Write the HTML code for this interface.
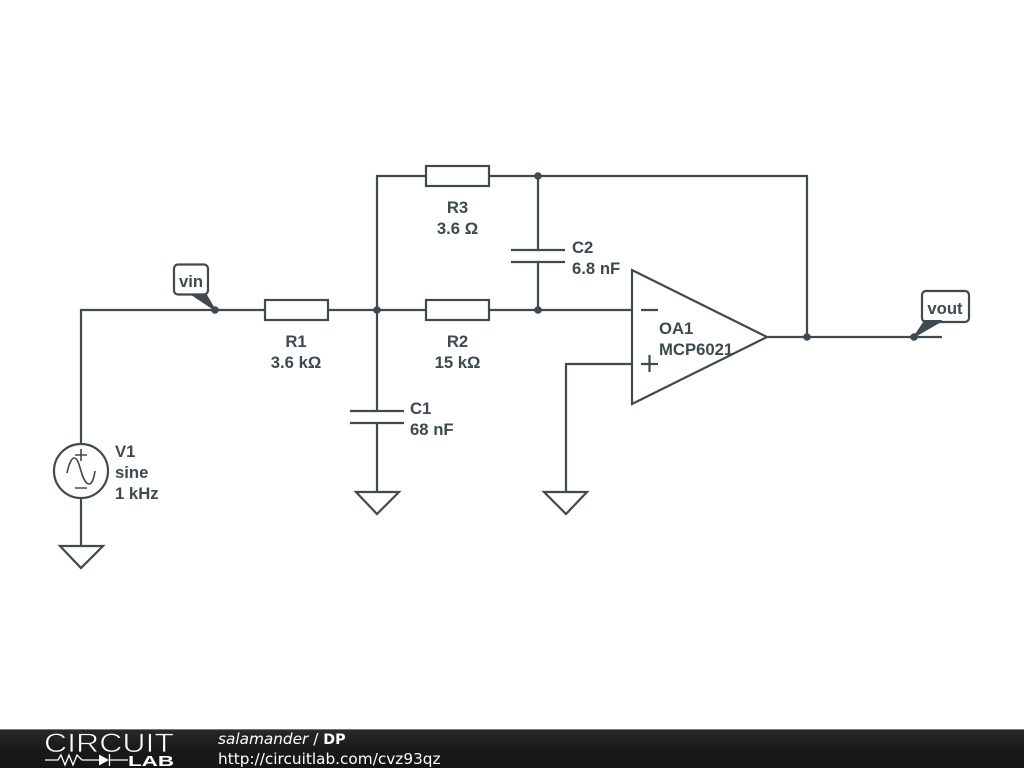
<!DOCTYPE html>
<html><head><meta charset="utf-8"><style>
html,body{margin:0;padding:0;background:#fff;width:1024px;height:768px;overflow:hidden}
svg{display:block}
.w{fill:none;stroke:#3e4a50;stroke-width:2.2}
.t{font-family:"Liberation Sans",sans-serif;font-weight:bold;font-size:16.7px;fill:#3e4a50}
.m{text-anchor:middle}
.f{font-family:"DejaVu Sans",sans-serif;font-size:15.3px;fill:#fff}
</style></head><body>
<svg width="1024" height="768" viewBox="0 0 1024 768" xmlns="http://www.w3.org/2000/svg">
<defs><linearGradient id="g" x1="0" y1="0" x2="0" y2="1"><stop offset="0" stop-color="#2a2a2a"/><stop offset=".5" stop-color="#1a1a1a"/><stop offset="1" stop-color="#141414"/></linearGradient></defs>
<rect width="1024" height="768" fill="#fff"/>
<!-- wires -->
<path class="w" d="M81 444V310H265M328 310H426M489 310H632M377 310V176H426M489 176H807V337M538 176V250M538 262V310M377 310V411M377 423V492M81 498V546M632 364H566V492M767 337H942"/>
<!-- resistors -->
<rect class="w" x="265" y="300" width="63" height="20" fill="#fff"/>
<rect class="w" x="426" y="300" width="63" height="20" fill="#fff"/>
<rect class="w" x="426" y="166" width="63" height="20" fill="#fff"/>
<!-- caps -->
<path class="w" d="M350 411H404M350 423H404M511 250H565M511 262H565"/>
<!-- grounds -->
<path class="w" d="M356 492H399L377 514ZM544 492H587L566 514ZM60 546H103L81 568Z"/>
<!-- source -->
<circle class="w" cx="81" cy="471" r="27"/>
<path class="w" style="stroke-width:1.6" d="M75 455H87M81 449V461M75 488H87M67 473C69 463 72 458 74 458C78 458 79 465 81 471C83 478 86 484 89 484C92 484 94 478 95 471"/>
<!-- opamp -->
<path class="w" d="M632 270L767 337L632 404Z"/>
<path class="w" d="M641 310H658M641 364H658M649.5 355V372"/>
<!-- dots -->
<g fill="#3e4a50" stroke="#3e4a50"><circle cx="215" cy="310" r="3.3" stroke-width="1"/><circle cx="377" cy="310" r="3.3" stroke-width="1"/><circle cx="538" cy="310" r="3.3" stroke-width="1"/><circle cx="538" cy="176" r="3.3" stroke-width="1"/><circle cx="807" cy="337" r="3.3" stroke-width="1"/><circle cx="914" cy="337" r="3.3" stroke-width="1"/>
<path stroke-width="2" stroke-linejoin="round" d="M193 295L206 295L214 309ZM915 336L925 321L941 321Z"/></g>
<!-- flags -->
<rect class="w" x="174" y="264.5" width="34" height="30" rx="4" fill="#fff"/>
<rect class="w" x="922" y="291" width="47" height="31" rx="4" fill="#fff"/>
<text class="t m" x="191" y="287">vin</text>
<text class="t m" x="945" y="314">vout</text>
<!-- labels -->
<text class="t m" x="296" y="347">R1</text>
<text class="t m" x="296" y="368">3.6 kΩ</text>
<text class="t m" x="457.5" y="347">R2</text>
<text class="t m" x="457.5" y="368">15 kΩ</text>
<text class="t m" x="457.5" y="213">R3</text>
<text class="t m" x="457.5" y="234">3.6 Ω</text>
<text class="t" x="410" y="414">C1</text>
<text class="t" x="410" y="435">68 nF</text>
<text class="t" x="572" y="253">C2</text>
<text class="t" x="572" y="274">6.8 nF</text>
<text class="t" x="659" y="334">OA1</text>
<text class="t" x="659" y="355">MCP6021</text>
<text class="t" x="115" y="457">V1</text>
<text class="t" x="115" y="478">sine</text>
<text class="t" x="115" y="499">1 kHz</text>
<!-- footer -->
<rect x="0" y="729" width="1024" height="39" fill="url(#g)"/>
<rect x="0" y="729" width="1024" height="1" fill="#777"/>
<text x="44" y="752" font-family="'Liberation Sans',sans-serif" font-size="27" fill="#fff" stroke="#1c1c1c" stroke-width=".7" textLength="130" lengthAdjust="spacingAndGlyphs">CIRCUIT</text>
<path d="M45 760H58L61 755L65 765L69 755L73 765L77 755L82 760H99M110 760H128M109.5 754V766" fill="none" stroke="#fff" stroke-width="1.3"/>
<path d="M99 754.5L109 760L99 765.5Z" fill="#fff"/>
<text x="128" y="766" font-family="'Liberation Sans',sans-serif" font-weight="bold" font-size="15" fill="#fff" textLength="46" lengthAdjust="spacingAndGlyphs">LAB</text>
<text class="f" x="218" y="744"><tspan font-style="italic">salamander</tspan> / <tspan font-weight="bold" font-size="14.3">DP</tspan></text>
<text class="f" x="218" y="764">http://circuitlab.com/cvz93qz</text>
</svg>
</body></html>
